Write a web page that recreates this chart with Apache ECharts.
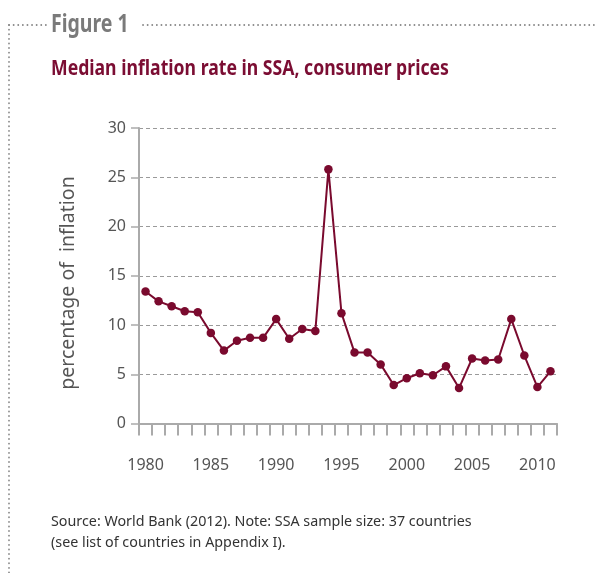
<!DOCTYPE html>
<html><head><meta charset="utf-8">
<script src="https://cdn.jsdelivr.net/npm/echarts@6/dist/echarts.min.js"></script>
<style>html,body{margin:0;padding:0;background:#fff}#c{width:595px;height:573px}</style>
</head><body><div id="c"></div>
<script>
const years = ['1980','1981','1982','1983','1984','1985','1986','1987','1988','1989','1990','1991','1992','1993','1994','1995','1996','1997','1998','1999','2000','2001','2002','2003','2004','2005','2006','2007','2008','2009','2010','2011'];
const inflation = [13.4,12.4,11.9,11.4,11.3,9.2,7.4,8.4,8.7,8.7,10.6,8.6,9.6,9.4,25.8,11.2,7.2,7.2,6.0,3.9,4.6,5.1,4.9,5.8,3.6,6.6,6.4,6.5,10.6,6.9,3.7,5.3];
const yTicks = [0,5,10,15,20,25,30];

const chart = echarts.init(document.getElementById('c'), null, {renderer:'canvas'});
function dotted(x1,y1,x2,y2){
  return {type:'line', silent:true, shape:{x1,y1,x2,y2},
    style:{stroke:'#8a8a8a', lineWidth:1.8, lineDash:[0.1,4.5], lineCap:'round'}};
}
chart.setOption({
  animation:false,
  textStyle:{fontFamily:'Noto Sans'},
  graphic:[
    dotted(9,25,48,25),
    dotted(143,25,595,25),
    dotted(9,25,9,573),
    {type:'text', x:51, y:12, scaleX:0.78, style:{text:'Figure 1', font:'bold 25px "Noto Sans"', fill:'#7a7a7a'}},
    {type:'text', x:51, y:58, scaleX:0.82, style:{text:'Median inflation rate in SSA, consumer prices', font:'bold 21.5px "Noto Sans"', fill:'#7b0d33'}},
    {type:'text', x:68, y:283, rotation:Math.PI/2, style:{text:'percentage of  inflation', font:'19.5px "Noto Sans"', fill:'#555', align:'center', verticalAlign:'middle'}},
    {type:'text', x:51, y:511, style:{text:'Source: World Bank (2012). Note: SSA sample size: 37 countries\n(see list of countries in Appendix I).', font:'14.3px "Noto Sans"', fill:'#333', lineHeight:21}}
  ],
  grid:{left:139, right:38, top:128, bottom:149.5, containLabel:false},
  xAxis:{
    type:'category', data:years, boundaryGap:true,
    axisLine:{lineStyle:{color:'#aaaaaa', width:2}},
    axisTick:{show:true, interval:0, length:12, lineStyle:{color:'#aaaaaa', width:2}},
    axisLabel:{interval:4, color:'#555', fontSize:16, margin:34, fontFamily:'Noto Sans'}
  },
  yAxis:{
    type:'value', min:0, max:30, interval:5,
    axisLine:{show:true, lineStyle:{color:'#aaaaaa', width:2}},
    axisTick:{show:true, length:8, lineStyle:{color:'#aaaaaa', width:1.5}},
    axisLabel:{color:'#555', fontSize:16, margin:13, fontFamily:'Noto Sans',
      formatter:v=> yTicks.includes(v) ? String(v) : ''},
    splitLine:{show:true, lineStyle:{color:'#9a9a9a', type:[4,3], width:1.2}}
  },
  series:[{
    type:'line', data:inflation, symbol:'circle', symbolSize:8.5,
    lineStyle:{color:'#7a0a2e', width:2}, itemStyle:{color:'#7a0a2e'}
  }]
});
</script></body></html>
